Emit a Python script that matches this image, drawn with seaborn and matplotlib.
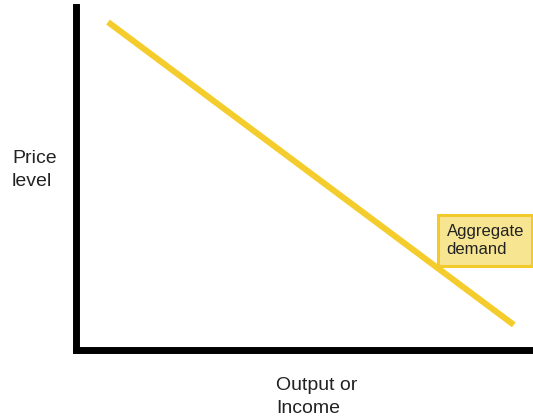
import numpy as np
import pandas as pd
import matplotlib
matplotlib.use('Agg')
import matplotlib.pyplot as plt
import seaborn as sns

sns.set_style('white')
plt.rcParams['font.family'] = ['Liberation Sans', 'DejaVu Sans']

# aggregate demand curve (two end points, 0-10 scale)
output = [0.71, 9.58]
price = [9.56, 0.72]
curve_label = "Aggregate\ndemand"
x_label = "Output or\nIncome"
y_label = "Price\nlevel"

df = pd.DataFrame({'output': output, 'price': price})

yellow = '#F4CD2C'

fig = plt.figure(figsize=(5.33, 4.17), dpi=100)
ax = fig.add_axes([75.5 / 533, (417 - 349.5) / 417, (533 - 75.5) / 533, (349.5 - 7) / 417])

sns.lineplot(data=df, x='output', y='price', ax=ax, color=yellow, linewidth=4.4,
             solid_capstyle='butt', legend=False)

ax.set_xlim(0, 10)
ax.set_ylim(0, 10)
ax.set_xticks([])
ax.set_yticks([])
ax.set_xlabel('')
ax.set_ylabel('')
for s in ['top', 'right']:
    ax.spines[s].set_visible(False)
for s in ['left', 'bottom']:
    ax.spines[s].set_linewidth(5)
    ax.spines[s].set_color('black')
    ax.spines[s].set_capstyle('projecting')

ax.text(8.11, 3.18, curve_label, ha='left', va='center', fontsize=12, color='#222222',
        linespacing=1.3,
        bbox=dict(boxstyle='square,pad=0.5', facecolor='#F8E591', edgecolor='#F2CA2C', linewidth=2.2))

fig.text(12 / 533, 1 - 170 / 417, y_label, ha='left', va='center', fontsize=14,
         color='#222222', linespacing=1.4)
fig.text(276 / 533, 1 - 397 / 417, x_label, ha='left', va='center', fontsize=14,
         color='#222222', linespacing=1.4)

plt.savefig('out.png', dpi=100)
